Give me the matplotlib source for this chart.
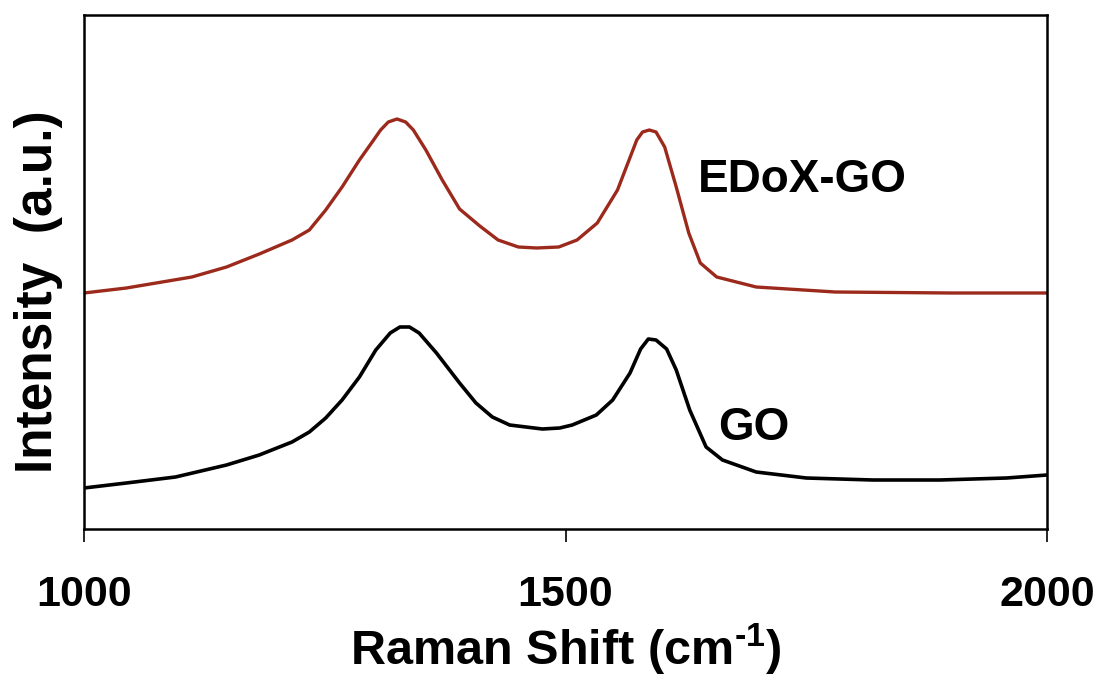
import matplotlib
matplotlib.use("Agg")
import matplotlib.pyplot as plt

# --- data (wavenumber, intensity in arbitrary units) ---
edox_x = [1000, 1044, 1112, 1148, 1182, 1216, 1234, 1251, 1268, 1286, 1300, 1308, 1316,
          1325, 1334, 1342, 1355, 1372, 1390, 1411, 1430, 1451, 1470, 1493, 1512, 1533,
          1554, 1566, 1574, 1580, 1587, 1594, 1603, 1615, 1628, 1640, 1657, 1698, 1780,
          1900, 2000]
edox_y = [236, 241, 252, 262, 275, 289, 299, 319, 342, 369, 388, 399, 407,
          410, 407, 399, 379, 349, 320, 303, 289, 282, 281, 282, 289, 306,
          339, 369, 389, 397, 399, 397, 382, 342, 296, 266, 252, 242, 237,
          236, 236]

go_x = [1000, 1044, 1095, 1148, 1182, 1216, 1234, 1251, 1268, 1286, 1303, 1318, 1328,
        1338, 1348, 1366, 1390, 1407, 1424, 1442, 1476, 1494, 1507, 1532, 1549, 1567,
        1578, 1586, 1594, 1605, 1615, 1629, 1646, 1663, 1698, 1750, 1819, 1889, 1958,
        2000]
go_y = [41, 46, 52, 64, 74, 87, 97, 111, 129, 152, 179, 196, 202,
        202, 196, 176, 146, 126, 112, 104, 100, 101, 104, 114, 129, 156,
        180, 190, 189, 180, 159, 119, 82, 69, 57, 51, 49, 49, 51,
        54]

xticks = [1000, 1500, 2000]

plt.rcParams['font.family'] = ['Liberation Sans', 'DejaVu Sans']
plt.rcParams['font.weight'] = 'bold'
plt.rcParams['mathtext.fontset'] = 'custom'
plt.rcParams['mathtext.rm'] = 'Liberation Sans:bold'
plt.rcParams['mathtext.bf'] = 'Liberation Sans:bold'
plt.rcParams['mathtext.default'] = 'bf'

fig = plt.figure(figsize=(10.98, 6.8), dpi=100)
ax = fig.add_axes([84 / 1098, 1 - 529 / 680, (1047 - 84) / 1098, (529 - 15) / 680])

ax.plot(edox_x, edox_y, color='#9c2a1c', lw=2.4)
ax.plot(go_x, go_y, color='black', lw=2.6)

ax.text(1637, 349, 'EDoX-GO', fontsize=33, fontweight='bold', ha='left', va='center')
ax.text(1658, 101, 'GO', fontsize=33, fontweight='bold', ha='left', va='center')

ax.set_xlim(1000, 2000)
ax.set_ylim(0, 514)
ax.set_xticks(xticks)
ax.set_xticklabels([str(t) for t in xticks], fontsize=31, fontweight='bold')
ax.set_yticks([])
ax.tick_params(axis='x', direction='out', length=9, width=1.2, pad=24)

for s in ax.spines.values():
    s.set_linewidth(1.8)

ax.set_xlabel('Raman Shift (cm$^{\u20101}$)', fontsize=35, fontweight='bold', labelpad=5)
ax.set_ylabel('Intensity  (a.u.)', fontsize=37, fontweight='bold')
ax.yaxis.set_label_coords(-0.022, 0.461)

fig.savefig('out.png', dpi=100)
